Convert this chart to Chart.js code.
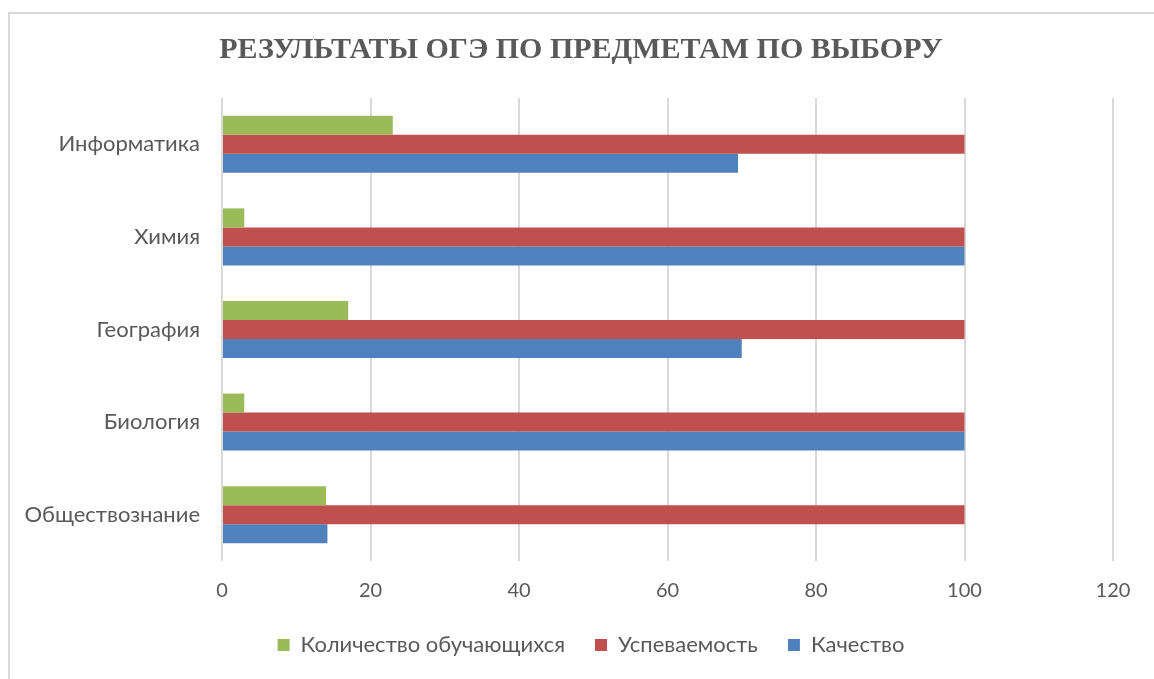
<!DOCTYPE html>
<html>
<head>
<meta charset="utf-8">
<script src="https://cdn.jsdelivr.net/npm/chart.js@4"></script>
<style>
html,body{margin:0;padding:0;background:#fff;}
#wrap{position:absolute;left:0;top:0;width:1154px;height:679px;}
#frame{position:absolute;left:8px;top:12px;width:1146px;height:667px;border-left:2px solid #d9d9d9;border-top:2px solid #d9d9d9;box-sizing:border-box;pointer-events:none;}
canvas{position:absolute;left:0;top:0;}
</style>
</head>
<body>
<div id="wrap">
<canvas id="c" width="1154" height="679"></canvas>
<div id="frame"></div>
</div>
<script>
const titleText = 'РЕЗУЛЬТАТЫ ОГЭ ПО ПРЕДМЕТАМ ПО ВЫБОРУ';
const categories = ['Информатика', 'Химия', 'География', 'Биология', 'Обществознание'];
const seriesNames = ['Количество обучающихся', 'Успеваемость', 'Качество'];
const studentsCount = [23, 3, 17, 3, 14];
const successRate = [100, 100, 100, 100, 100];
const qualityRate = [69.5, 100, 70, 100, 14.2];
const xTicks = [0, 20, 40, 60, 80, 100, 120];

const colors = ['#9BBB59', '#C0504D', '#4F81BD'];
const catFont = {family: 'Lato, "Open Sans", sans-serif', size: 22};
const numFont = {family: 'Lato, "Open Sans", sans-serif', size: 20};

// Title and legend centred on the whole frame (as in the original chart object)
const frameLayout = {
  id: 'frameLayout',
  afterLayout(chart) {
    const shift = chart.width / 2 + 14 - (chart.legend.left + chart.legend.right) / 2;
    chart.legend.left += shift;
    chart.legend.right += shift;
  },
  afterDraw(chart) {
    const ctx = chart.ctx;
    ctx.save();
    ctx.font = 'bold 30px "Liberation Serif", "Times New Roman", serif';
    ctx.fillStyle = '#595959';
    ctx.textAlign = 'center';
    ctx.textBaseline = 'middle';
    ctx.fillText(titleText, (chart.width + 8) / 2, 50);
    ctx.restore();
  }
};

new Chart(document.getElementById('c'), {
  type: 'bar',
  data: {
    labels: categories,
    datasets: [
      {label: seriesNames[0], data: studentsCount, backgroundColor: colors[0]},
      {label: seriesNames[1], data: successRate, backgroundColor: colors[1]},
      {label: seriesNames[2], data: qualityRate, backgroundColor: colors[2]}
    ]
  },
  plugins: [frameLayout],
  options: {
    indexAxis: 'y',
    responsive: false,
    animation: false,
    devicePixelRatio: 1,
    categoryPercentage: 0.616,
    barPercentage: 1.0,
    layout: {padding: {top: 98, left: 10, right: 41, bottom: 13}},
    plugins: {
      title: {display: false},
      legend: {
        position: 'bottom',
        labels: {
          color: '#595959',
          font: catFont,
          boxWidth: 12,
          boxHeight: 12,
          padding: 30
        }
      },
      tooltip: {enabled: false}
    },
    scales: {
      x: {
        min: 0,
        max: 120,
        afterBuildTicks: (axis) => { axis.ticks = xTicks.map(v => ({value: v})); },
        grid: {color: '#d9d9d9', lineWidth: 2, drawTicks: false},
        border: {display: false},
        ticks: {color: '#595959', font: numFont, padding: 18},
        afterFit: (axis) => { axis.height = 43; }
      },
      y: {
        grid: {display: false, drawTicks: false},
        border: {display: false},
        ticks: {color: '#595959', font: catFont, padding: 22},
        afterFit: (axis) => { axis.width = 212; }
      }
    }
  }
});
</script>
</body>
</html>
